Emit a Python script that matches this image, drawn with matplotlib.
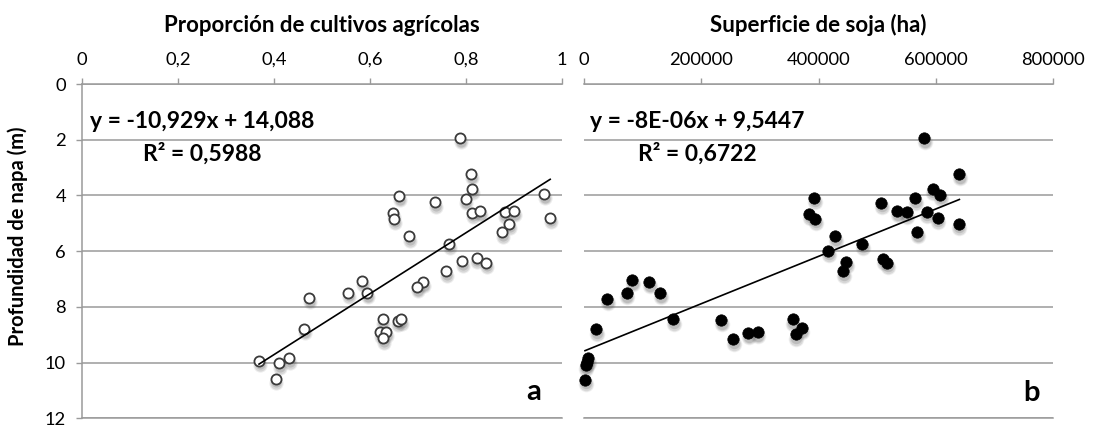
import numpy as np
import matplotlib
matplotlib.use('Agg')
import matplotlib.pyplot as plt
import matplotlib.transforms as mtransforms

plt.rcParams['font.family'] = ['Lato', 'DejaVu Sans']

# ---------------- data ----------------
# Panel a: proporción de cultivos agrícolas vs profundidad de napa (m)
prop_cultivos = [0.788, 0.811, 0.814, 0.800, 0.964, 0.976, 0.661, 0.736, 0.649, 0.651,
                 0.814, 0.830, 0.881, 0.901, 0.891, 0.876, 0.682, 0.765, 0.792, 0.823,
                 0.843, 0.759, 0.711, 0.698, 0.584, 0.555, 0.595, 0.474, 0.463, 0.627,
                 0.621, 0.634, 0.628, 0.658, 0.666, 0.369, 0.411, 0.432, 0.404]
prof_a = [1.94, 3.24, 3.76, 4.13, 3.96, 4.80, 4.03, 4.25, 4.63, 4.83,
          4.62, 4.56, 4.61, 4.56, 5.01, 5.33, 5.47, 5.74, 6.37, 6.24,
          6.41, 6.73, 7.11, 7.29, 7.07, 7.50, 7.51, 7.69, 8.80, 8.45,
          8.92, 8.91, 9.13, 8.49, 8.45, 9.94, 10.03, 9.85, 10.58]

# Panel b: superficie de soja (ha) vs profundidad de napa (m)
soja_ha = [392700, 384100, 393900, 81800, 110800, 72800, 39700, 129600, 20500, 152300,
           234100, 254000, 280100, 296200, 355800, 371200, 360900, 7300, 4600, 2900,
           1700, 580200, 639900, 594500, 607500, 506900, 564400, 533700, 550200, 584300,
           603100, 638900, 567800, 428500, 474000, 416500, 446700, 442100, 509800, 517100]
prof_b = [4.08, 4.65, 4.83, 7.04, 7.11, 7.51, 7.72, 7.51, 8.81, 8.45,
          8.48, 9.17, 8.95, 8.91, 8.45, 8.76, 8.99, 9.85, 9.98, 10.08,
          10.62, 1.94, 3.24, 3.76, 3.97, 4.26, 4.11, 4.56, 4.61, 4.59,
          4.80, 5.01, 5.32, 5.47, 5.73, 5.98, 6.39, 6.73, 6.27, 6.42]

slope_a, intercept_a = -10.929, 14.088
eq_a = 'y = -10,929x + 14,088'
r2_a = 'R² = 0,5988'
eq_b = 'y = -8E-06x + 9,5447'
r2_b = 'R² = 0,6722'

title_a = 'Proporción de cultivos agrícolas'
title_b = 'Superficie de soja (ha)'
ylabel = 'Profundidad de napa (m)'

xticks_a = [0, 0.2, 0.4, 0.6, 0.8, 1]
xticklabels_a = ['0', '0,2', '0,4', '0,6', '0,8', '1']
xticks_b = [0, 200000, 400000, 600000, 800000]
xticklabels_b = ['0', '200000', '400000', '600000', '800000']
yticks = [0, 2, 4, 6, 8, 10, 12]
yticklabels = ['0', '2', '4', '6', '8', '10', '12']

# ---------------- figure ----------------
W, H = 1094, 426
fig = plt.figure(figsize=(W / 100, H / 100), dpi=100)


def rect(x0, x1, y0, y1):
    return [x0 / W, 1 - y1 / H, (x1 - x0) / W, (y1 - y0) / H]


axa = fig.add_axes(rect(82, 561.7, 84, 418.3))
axb = fig.add_axes(rect(584, 1053.3, 84, 418.3))

GRID = '#9a9a9a'
TICKFS = 13.2


def style(ax, xt, xtl, xlim, show_y):
    ax.set_xlim(*xlim)
    ax.set_ylim(12, 0)
    ax.xaxis.tick_top()
    ax.set_xticks(xt)
    ax.set_xticklabels(xtl, fontsize=TICKFS)
    ax.set_yticks(yticks)
    ax.yaxis.grid(True, color=GRID, linewidth=1.1)
    ax.set_axisbelow(True)
    ax.tick_params(axis='x', direction='out', length=4.5, width=1.0, color=GRID,
                   pad=7, labelsize=TICKFS, top=True, bottom=False)
    ax.spines['right'].set_visible(False)
    ax.spines['top'].set_color(GRID)
    ax.spines['top'].set_linewidth(1.1)
    ax.spines['bottom'].set_color(GRID)
    ax.spines['bottom'].set_linewidth(1.1)
    if show_y:
        ax.set_yticklabels(yticklabels, fontsize=TICKFS)
        ax.spines['left'].set_color(GRID)
        ax.spines['left'].set_linewidth(1.1)
        ax.tick_params(axis='y', direction='out', length=4.5, width=1.0, color=GRID,
                       pad=7, labelsize=TICKFS)
    else:
        ax.spines['left'].set_visible(False)
        ax.tick_params(axis='y', left=False, labelleft=False)


style(axa, xticks_a, xticklabels_a, (0, 1), True)
style(axb, xticks_b, xticklabels_b, (0, 800000), False)


def shadowed(ax, x, y, ms, face, edge, ew):
    for dy, extra, alpha in [(-3.0, 3.0, 0.10), (-3.0, 1.5, 0.14), (-2.5, 0.0, 0.20)]:
        tr = ax.transData + mtransforms.ScaledTranslation(0.5 / 72, dy / 72, fig.dpi_scale_trans)
        ax.plot(x, y, 'o', ms=ms + extra, color='#555555', alpha=alpha, mec='none',
                transform=tr, zorder=2, clip_on=False)
    ax.plot(x, y, 'o', ms=ms, mfc=face, mec=edge, mew=ew, zorder=3, clip_on=False)


shadowed(axa, prop_cultivos, prof_a, 7.3, 'white', '#3a3a3a', 1.3)
shadowed(axb, soja_ha, prof_b, 8.2, 'black', 'black', 0.5)

# trend lines
xa = np.array([min(prop_cultivos), max(prop_cultivos)])
axa.plot(xa, slope_a * xa + intercept_a, color='black', lw=1.2, zorder=4)

cb = np.polyfit(soja_ha, prof_b, 1)
xb = np.array([min(soja_ha), max(soja_ha)])
axb.plot(xb, np.polyval(cb, xb), color='black', lw=1.2, zorder=4)

EQFS = 16.5
for ax, eq, r2, xc in [(axa, eq_a, r2_a, 0.250), (axb, eq_b, r2_b, 0.241)]:
    ax.text(xc, 0.868, eq, transform=ax.transAxes, ha='center', va='baseline',
            fontsize=EQFS, fontweight='bold', zorder=5)
    ax.text(xc, 0.771, r2, transform=ax.transAxes, ha='center', va='baseline',
            fontsize=EQFS, fontweight='bold', zorder=5)

axa.text(0.941, 0.080, 'a', transform=axa.transAxes, ha='center', va='center',
         fontsize=21, fontweight='bold')
axb.text(0.954, 0.075, 'b', transform=axb.transAxes, ha='center', va='center',
         fontsize=21, fontweight='bold')

fig.text((82 + 561.7) / 2 / W, 1 - 25 / H, title_a, ha='center', va='center',
         fontsize=16, fontweight='bold')
fig.text((584 + 1053.3) / 2 / W, 1 - 25 / H, title_b, ha='center', va='center',
         fontsize=16, fontweight='bold')
fig.text(18 / W, 1 - 236 / H, ylabel, rotation=90, ha='center', va='center',
         fontsize=14.5, fontweight='bold')

fig.savefig('out.png', dpi=100)
